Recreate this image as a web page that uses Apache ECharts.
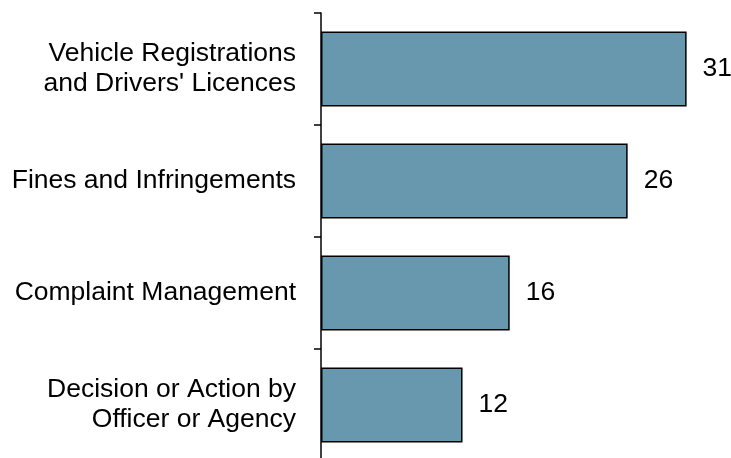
<!DOCTYPE html>
<html>
<head>
<meta charset="utf-8">
<script src="https://cdn.jsdelivr.net/npm/echarts@6/dist/echarts.min.js"></script>
<style>
html,body{margin:0;padding:0;background:#fff;}
#chart{width:731px;height:458px;}
</style>
</head>
<body>
<div id="chart"></div>
<script>
const categories = ['Vehicle Registrations\nand Drivers\' Licences', 'Fines and Infringements', 'Complaint Management', 'Decision or Action by\nOfficer or Agency'];
const counts = [31, 26, 16, 12];

const myChart = echarts.init(document.querySelector('#chart'));
const option = {
    animation: false,
    grid: {
        left: 321,
        right: 9,
        top: 13,
        height: 448,
        outerBoundsMode: 'none'
    },
    xAxis: {
        type: 'value',
        min: 0,
        max: 34,
        show: false
    },
    yAxis: {
        type: 'category',
        inverse: true,
        data: categories,
        axisLine: {
            lineStyle: { color: '#000', width: 1.5 }
        },
        axisTick: {
            show: true,
            inside: false,
            length: 7,
            lineStyle: { color: '#000', width: 1.5 }
        },
        axisLabel: {
            margin: 25,
            fontFamily: 'Liberation Sans, Arial',
            fontSize: 26.5,
            lineHeight: 30,
            color: '#000',
            align: 'right'
        }
    },
    series: [
        {
            type: 'bar',
            data: counts,
            barCategoryGap: '33%',
            itemStyle: {
                color: '#6898ae',
                borderColor: '#000',
                borderWidth: 1.5
            },
            label: {
                show: true,
                position: 'right',
                distance: 16,
                fontFamily: 'Liberation Sans, Arial',
                fontSize: 26.5,
                color: '#000'
            }
        }
    ]
};
myChart.setOption(option);
</script>
</body>
</html>
